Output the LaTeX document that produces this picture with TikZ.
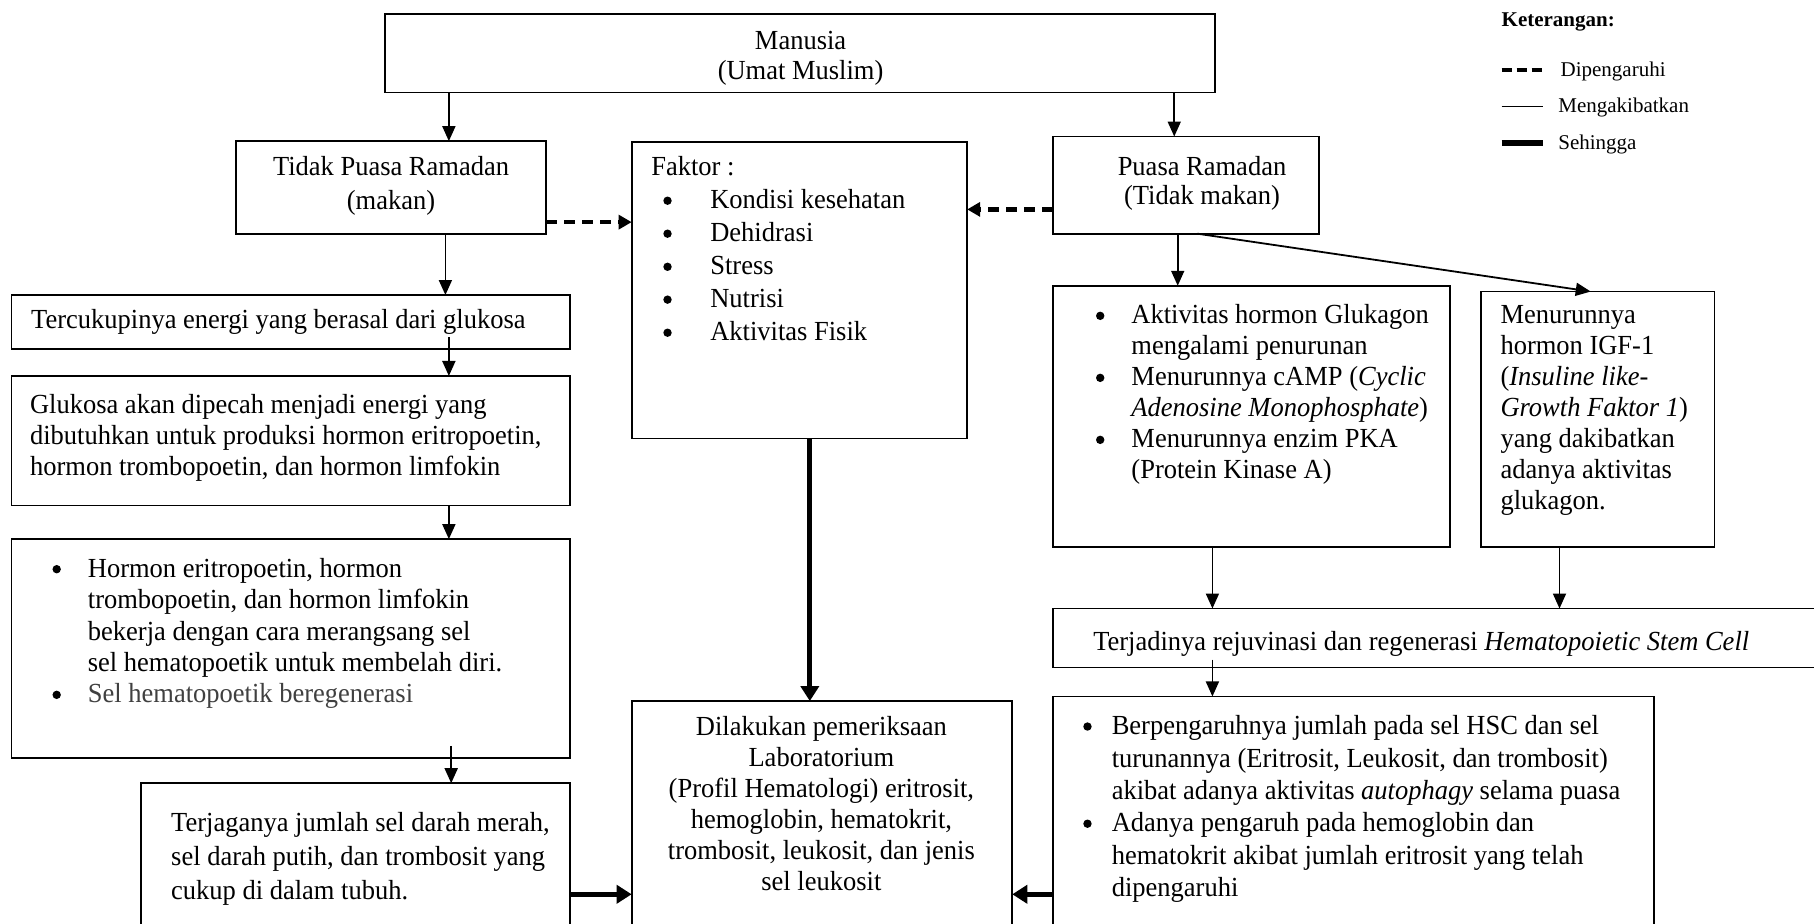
\documentclass[tikz,border=0pt]{standalone}
\usepackage{fontspec}
\setmainfont{Liberation Serif}[FakeStretch=0.96]
\newfontfamily\plainserif{Liberation Serif}
\usetikzlibrary{arrows.meta}

\newcommand{\bx}[5]{\node[boxst, anchor=north west, minimum width={(#4-#2)*0.5784pt}, minimum height={(#5-#3)*0.5784pt}] (#1) at (#2,#3) {};}
\newcommand{\txl}[6]{\node[txt, anchor=base west] (#1) at (#2,#3) {\begin{minipage}[t]{#4pt}\fontsize{13.8pt}{#5pt}\selectfont\raggedright #6\end{minipage}};}
\newcommand{\txc}[6]{\node[txt, anchor=base] (#1) at (#2,#3) {\begin{minipage}[t]{#4pt}\fontsize{13.8pt}{#5pt}\selectfont\centering #6\end{minipage}};}

\tikzset{
  boxst/.style={draw, line width=0.9pt, inner sep=0pt, outer sep=0pt},
  txt/.style={inner sep=0pt, outer sep=0pt},
  bulletdot/.style={fill=black},
  thinarr/.style={line width=0.9pt, -{Triangle[length=7.5pt,width=6.5pt]}},
  thickarr/.style={line width=2.6pt, -{Triangle[length=7.5pt,width=9pt]}},
  dasharr/.style={line width=2.2pt, dash pattern=on 5.5pt off 3.5pt, -{Triangle[length=6.5pt,width=7pt]}},
  legfont/.style={font=\plainserif\fontsize{10.5pt}{12pt}\selectfont},
  legbold/.style={font=\plainserif\fontsize{10.5pt}{12pt}\selectfont\bfseries},
}

\begin{document}
\begin{tikzpicture}[x=0.5784pt, y=-0.5784pt]
\useasboundingbox (0,0) rectangle (1568,798);
\clip (0,0) rectangle (1568,798);
\fill[white] (0,0) rectangle (1568,798);

% boxes
\bx{man}{333}{12}{1050}{80}
\bx{tp}{204}{122}{472}{202}
\bx{fk}{546}{123}{836}{379}
\bx{pr}{910}{118}{1140}{202}
\bx{tc}{10}{255}{493}{302}
\bx{gl}{10}{325}{493}{437}
\bx{hr}{10}{466}{493}{655}
\bx{tj}{122}{677}{493}{815}
\bx{lab}{546}{606}{875}{815}
\bx{ak}{910}{247}{1253}{473}
\bx{mn}{1280}{252}{1482}{473}
\bx{hsc}{910}{526}{1580}{577}
\bx{bp}{910}{602}{1430}{815}

% texts
\txc{tman}{692}{43}{300}{15pt}{Manusia\\(Umat Muslim)}
\txc{ttp}{338}{152}{200}{16.8pt}{Tidak Puasa Ramadan\\(makan)}
\txc{tpr}{1039}{152}{200}{14.5pt}{Puasa Ramadan\\(Tidak makan)}
\txl{tfk}{563}{152}{200}{16.5pt}{Faktor :\\
\hspace*{29.5pt}Kondisi kesehatan\\
\hspace*{29.5pt}Dehidrasi\\
\hspace*{29.5pt}Stress\\
\hspace*{29.5pt}Nutrisi\\
\hspace*{29.5pt}Aktivitas Fisik}
\txl{ttc}{27}{284}{300}{15.6pt}{Tercukupinya energi yang berasal dari glukosa}
\txl{tgl}{26}{357}{300}{15.6pt}{Glukosa akan dipecah menjadi energi yang\\
dibutuhkan untuk produksi hormon eritropoetin,\\
hormon trombopoetin, dan hormon limfokin}
\txl{thr}{76}{499}{260}{15.7pt}{Hormon eritropoetin, hormon\\
trombopoetin, dan hormon limfokin\\
bekerja dengan cara merangsang sel\\
sel hematopoetik untuk membelah diri.\\
{\color{black!75}Sel hematopoetik beregenerasi}}
\txl{ttj}{148}{719}{250}{16.8pt}{Terjaganya jumlah sel darah merah,\\
sel darah putih, dan trombosit yang\\
cukup di dalam tubuh.}
\txc{tlab}{710}{636}{200}{15.5pt}{Dilakukan pemeriksaan\\
Laboratorium\\
(Profil Hematologi) eritrosit,\\
hemoglobin, hematokrit,\\
trombosit, leukosit, dan jenis\\
sel leukosit}
\txl{tak}{978}{280}{220}{15.5pt}{Aktivitas hormon Glukagon\\
mengalami penurunan\\
Menurunnya cAMP (\textit{Cyclic}\\
\textit{Adenosine Monophosphate})\\
Menurunnya enzim PKA\\
(Protein Kinase A)}
\txl{tmn}{1297}{280}{150}{15.5pt}{Menurunnya\\
hormon IGF-1\\
(\textit{Insuline like-}\\
\textit{Growth Faktor 1})\\
yang dakibatkan\\
adanya aktivitas\\
glukagon.}
\txl{thsc}{945}{562}{400}{15.5pt}{Terjadinya rejuvinasi dan regenerasi \textit{Hematopoietic Stem Cell}}
\txl{tbp}{961}{635}{290}{16.2pt}{Berpengaruhnya jumlah pada sel HSC dan sel\\
turunannya (Eritrosit, Leukosit, dan trombosit)\\
akibat adanya aktivitas \textit{autophagy} selama puasa\\
Adanya pengaruh pada hemoglobin dan\\
hematokrit akibat jumlah eritrosit yang telah\\
dipengaruhi}

% bullets
\foreach \by in {173.5,202,230.6,259,287.6} \fill[bulletdot] (577,\by) circle (2.1pt);
\foreach \by in {492,600.6} \fill[bulletdot] (49,\by) circle (2.1pt);
\foreach \by in {273,326.6,380.2} \fill[bulletdot] (951,\by) circle (2.1pt);
\foreach \by in {628,712} \fill[bulletdot] (940,\by) circle (2.1pt);

% connectors
\draw[thinarr] (man.south -| 388,0) -- (tp.north -| 388,0);
\draw[thinarr] (man.south -| 1015,0) -- (pr.north -| 1015,0);
\draw[dasharr] (tp.east |- 0,192) -- (fk.west |- 0,192);
\draw[dasharr] (pr.west |- 0,181) -- (fk.east |- 0,181);
\draw[thinarr] (tp.south -| 385,0) -- (tc.north -| 385,0);
\draw[thinarr] ([yshift=6pt]tc.south -| 388,0) -- (gl.north -| 388,0);
\draw[thinarr] (gl.south -| 388,0) -- (hr.north -| 388,0);
\draw[thinarr] ([yshift=6pt]hr.south -| 390,0) -- (tj.north -| 390,0);
\draw[thickarr] (fk.south -| 700,0) -- (lab.north -| 700,0);
\draw[thickarr] (tj.east |- 0,773) -- (lab.west |- 0,773);
\draw[thickarr] (bp.west |- 0,773) -- (lab.east |- 0,773);
\draw[thinarr] (pr.south -| 1018,0) -- (ak.north -| 1018,0);
\draw[thinarr] (pr.south -| 1035,0) -- (mn.north -| 1375,0);
\draw[thinarr] (ak.south -| 1048,0) -- (hsc.north -| 1048,0);
\draw[thinarr] (mn.south -| 1348,0) -- (hsc.north -| 1348,0);
\draw[thinarr] ([yshift=4pt]hsc.south -| 1048,0) -- (bp.north -| 1048,0);

% legend
\node[txt, anchor=base west, legbold] (ket) at (1298,23) {Keterangan:};
\coordinate (la1) at (1298,60.5); \coordinate (la2) at (1334,60.5);
\coordinate (lb1) at (1298,92); \coordinate (lb2) at (1334,92);
\coordinate (lc1) at (1298,123.5); \coordinate (lc2) at (1334,123.5);
\draw[line width=2pt, dash pattern=on 5pt off 2.5pt] (la1) -- (la2);
\draw[line width=0.6pt] (lb1) -- (lb2);
\draw[line width=2.8pt] (lc1) -- (lc2);
\node[txt, anchor=base west, legfont] (lg1) at (1349,66) {Dipengaruhi};
\node[txt, anchor=base west, legfont] (lg2) at (1347,97) {Mengakibatkan};
\node[txt, anchor=base west, legfont] (lg3) at (1347,129) {Sehingga};
\end{tikzpicture}
\end{document}
